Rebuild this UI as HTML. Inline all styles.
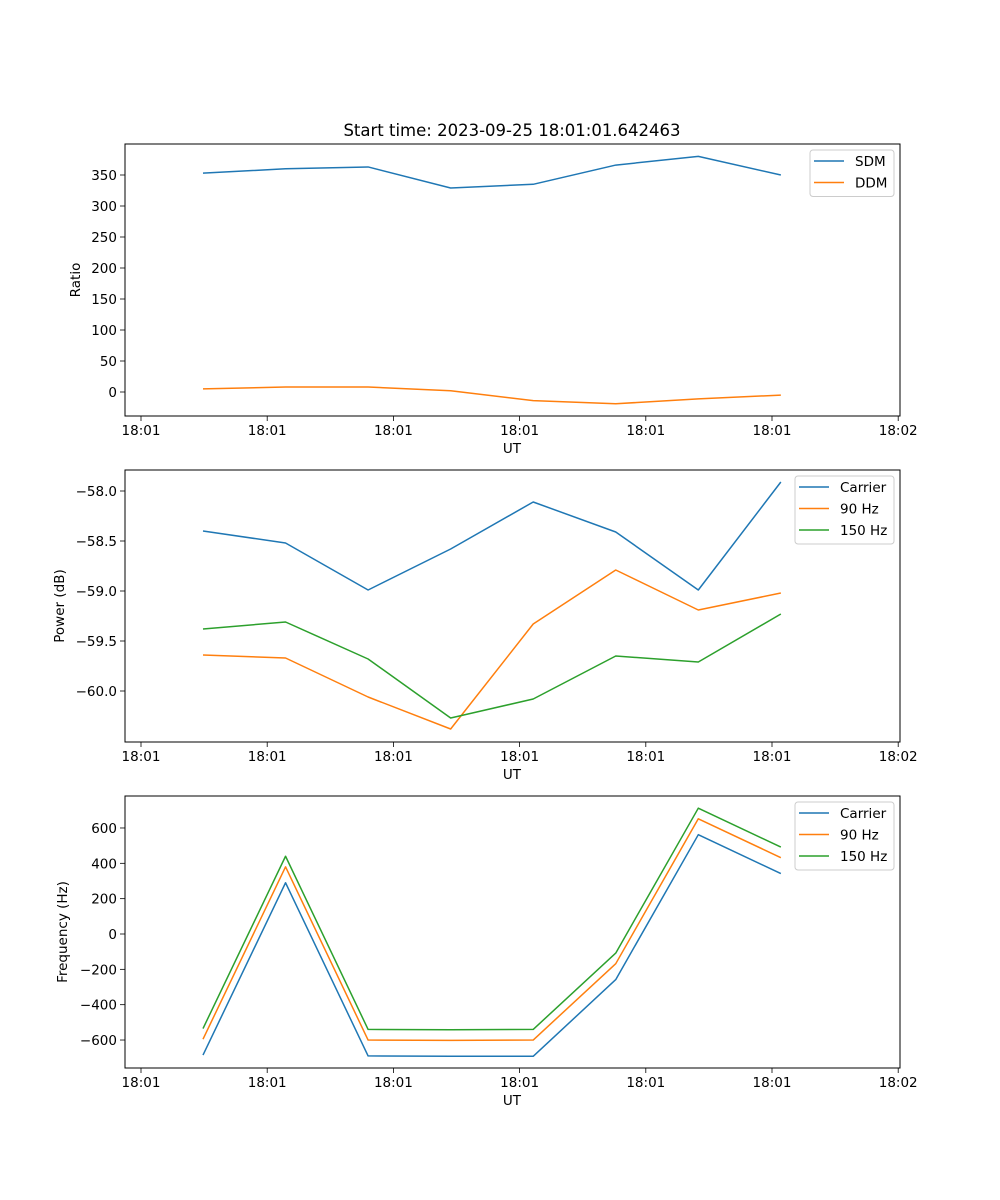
<!DOCTYPE html>
<html><head><meta charset="utf-8">
<style>
body{margin:0;background:#fff;}
svg{display:block;font-family:"DejaVu Sans","Liberation Sans",sans-serif;}
</style></head>
<body>
<svg id="fig" width="1000" height="1200" viewBox="0 0 1000 1200" xmlns="http://www.w3.org/2000/svg">
<rect width="1000" height="1200" fill="#fff"/>
<text x="512" y="136" font-size="16.5" text-anchor="middle">Start time: 2023-09-25 18:01:01.642463</text>
</svg>
<script>
const xTickLabels = ["18:01","18:01","18:01","18:01","18:01","18:01","18:02"];
const pointIndex = [0,1,2,3,4,5,6,7];
const sdm = [353,360,363,329,335,366,380,350];
const ddm = [5,8,8,2,-14,-19,-11,-5];
const ratioTicks = [0,50,100,150,200,250,300,350];
const carrierPower = [-58.40,-58.52,-58.99,-58.58,-58.11,-58.41,-58.99,-57.91];
const hz90Power = [-59.64,-59.67,-60.06,-60.38,-59.33,-58.79,-59.19,-59.02];
const hz150Power = [-59.38,-59.31,-59.68,-60.27,-60.08,-59.65,-59.71,-59.23];
const powerTicks = [-60.0,-59.5,-59.0,-58.5,-58.0];
const carrierFreq = [-685,290,-690,-692,-692,-258,562,342];
const hz90Freq = [-595,380,-600,-602,-600,-168,652,432];
const hz150Freq = [-535,440,-540,-542,-540,-108,712,492];
const freqTicks = [-600,-400,-200,0,200,400,600];

const NS="http://www.w3.org/2000/svg";
const svg=document.getElementById('fig');
const colors={blue:"#1f77b4",orange:"#ff7f0e",green:"#2ca02c"};
const L=125,R=900;
function xScale(i){return 203+82.55*i;}
function xTick(i){return 141+126.2*i;}
function mk(tag,attrs,parent){const e=document.createElementNS(NS,tag);for(const k in attrs)e.setAttribute(k,attrs[k]);(parent||svg).appendChild(e);return e;}

function panel(cfg){
  const g=mk('g',{});
  
  
  const T=cfg.top,B=cfg.top+272;
  const y=v=>cfg.y0+(v-cfg.v0)*cfg.k;
  const fmt=cfg.fmt;
  cfg.series.forEach(s=>{
    const d=s.vals.map((v,i)=>(i?'L':'M')+xScale(pointIndex[i]).toFixed(2)+','+y(v).toFixed(2)).join(' ');
    const p=mk('path',{d:d,fill:'none',stroke:s.color,'stroke-width':1.5,'stroke-linejoin':'round'},g);
    
    
  });
  const fr=mk('rect',{x:L,y:T,width:R-L,height:272,fill:'none',stroke:'#000','stroke-width':1},g);
  
  
  xTickLabels.forEach((lab,i)=>{
    const x=xTick(i);
    mk('line',{x1:x,x2:x,y1:B,y2:B+5,stroke:'#000','stroke-width':0.8},g);
    const t=mk('text',{x:x,y:B+19,'font-size':13.5,'text-anchor':'middle'},g);
    t.textContent=lab;
    
    
  });
  cfg.ticks.forEach(v=>{
    const yy=y(v);
    mk('line',{x1:L-5,x2:L,y1:yy,y2:yy,stroke:'#000','stroke-width':0.8},g);
    const t=mk('text',{x:L-8,y:yy+5,'font-size':13.5,'text-anchor':'end'},g);
    t.textContent=fmt(v);
    
    
  });
  const xl=mk('text',{x:512,y:B+37,'font-size':13.5,'text-anchor':'middle'},g);
  xl.textContent='UT';
  
  
  const yl=mk('text',{x:0,y:0,'font-size':13.5,'text-anchor':'middle',transform:`translate(${cfg.ylx},${T+136}) rotate(-90)`},g);
  yl.textContent=cfg.ylabel;
  
  
  const lg=mk('g',{},g);
  
  
  const lx=cfg.legX,ly=T+6,lw=R-6-lx,lh=3.5+21.5*cfg.series.length;
  mk('rect',{x:lx,y:ly,width:lw,height:lh,rx:3,fill:'#fff','fill-opacity':0.8,stroke:'#ccc','stroke-width':1},lg);
  cfg.series.forEach((s,i)=>{
    const yy=ly+11+21.5*i;
    const e=mk('g',{},lg);
    
    
    mk('line',{x1:lx+4,x2:lx+34,y1:yy,y2:yy,stroke:s.color,'stroke-width':1.5},e);
    const t=mk('text',{x:lx+45,y:yy+5,'font-size':13.5},e);
    t.textContent=s.label;
  });
}
panel({name:'ratio-panel',top:144,y0:392,v0:0,k:-0.62,ticks:ratioTicks,fmt:v=>String(v),ylabel:'Ratio',ylx:80,legX:810,
  series:[{id:'sdm',label:'SDM',vals:sdm,color:colors.blue},{id:'ddm',label:'DDM',vals:ddm,color:colors.orange}]});
panel({name:'power-panel',top:470,y0:491,v0:-58.0,k:-100,ticks:powerTicks,fmt:v=>(v<0?'\u2212':'')+Math.abs(v).toFixed(1),ylabel:'Power (dB)',ylx:64,legX:795,
  series:[{id:'carrier-power',label:'Carrier',vals:carrierPower,color:colors.blue},{id:'hz90-power',label:'90 Hz',vals:hz90Power,color:colors.orange},{id:'hz150-power',label:'150 Hz',vals:hz150Power,color:colors.green}]});
panel({name:'frequency-panel',top:796,y0:934,v0:0,k:-0.1767,ticks:freqTicks,fmt:v=>(v<0?'\u2212':'')+Math.abs(v),ylabel:'Frequency (Hz)',ylx:67,legX:795,
  series:[{id:'carrier-freq',label:'Carrier',vals:carrierFreq,color:colors.blue},{id:'hz90-freq',label:'90 Hz',vals:hz90Freq,color:colors.orange},{id:'hz150-freq',label:'150 Hz',vals:hz150Freq,color:colors.green}]});
</script>
</body></html>
